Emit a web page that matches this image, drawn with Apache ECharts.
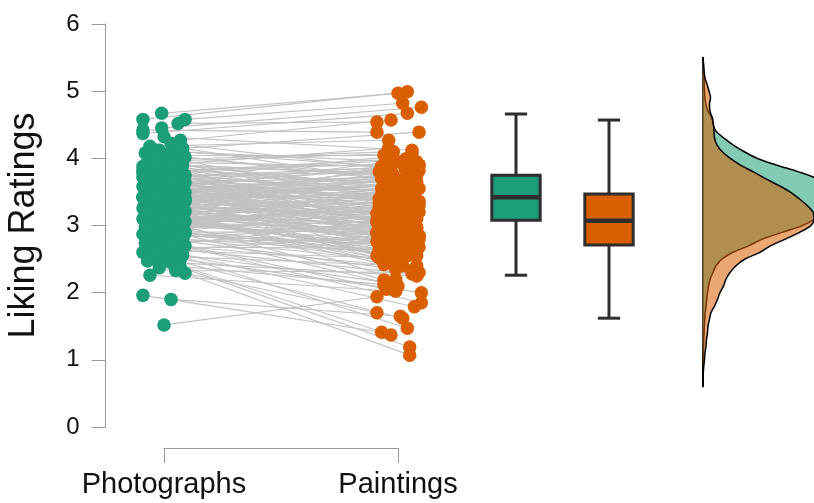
<!DOCTYPE html>
<html>
<head>
<meta charset="utf-8">
<script src="https://cdn.jsdelivr.net/npm/echarts@6/dist/echarts.min.js"></script>
<style>html,body{margin:0;padding:0;background:#fff}#c{width:814px;height:503px}</style>
</head>
<body>
<div id="c"></div>
<script>
// ---------- DATA ----------
const categories = ['Photographs', 'Paintings'];
const yTicks = [0, 1, 2, 3, 4, 5, 6];
const yTitle = 'Liking Ratings';

// paired ratings per participant (same order in both arrays)
const photographs = [
  4.67,4.58,4.58,4.52,4.45,4.42,4.37,4.32,4.27,4.22,
  4.18,4.15,4.12,4.10,4.08,4.05,4.02,4.00,3.98,3.96,
  3.94,3.92,3.90,3.88,3.86,3.85,3.83,3.82,3.80,3.79,
  3.78,3.77,3.76,3.75,3.74,3.73,3.72,3.71,3.70,3.69,
  3.68,3.67,3.66,3.65,3.64,3.63,3.62,3.61,3.60,3.59,
  3.58,3.57,3.56,3.55,3.54,3.53,3.52,3.51,3.50,3.49,
  3.48,3.47,3.46,3.45,3.44,3.43,3.43,3.42,3.42,3.41,
  3.40,3.40,3.39,3.38,3.37,3.36,3.35,3.34,3.33,3.32,
  3.31,3.30,3.29,3.28,3.27,3.26,3.25,3.24,3.23,3.22,
  3.21,3.20,3.19,3.18,3.17,3.16,3.15,3.14,3.13,3.12,
  3.11,3.10,3.09,3.08,3.07,3.06,3.05,3.04,3.03,3.02,
  3.00,2.99,2.98,2.96,2.95,2.93,2.92,2.90,2.89,2.87,
  2.85,2.83,2.82,2.80,2.78,2.76,2.74,2.72,2.70,2.68,
  2.66,2.64,2.62,2.60,2.58,2.56,2.55,2.52,2.50,2.47,
  2.45,2.42,2.38,2.37,2.33,2.29,2.26,1.96,1.90,1.52,
  3.95,3.55,3.35,3.20,3.50,3.75,2.95,3.62,3.28,3.00,
  3.88,3.45,3.62,3.30,3.72,3.15,3.52,3.05,3.40,3.85,
  3.25,3.58,3.10,3.68,2.92,3.48,3.78,3.18,3.55,2.85,
  3.95,3.38,3.65,3.02,3.44,4.05,3.22,3.58,2.75,3.82,
  3.12,3.50,3.34,2.98,3.70,3.27,3.92,3.08,3.46,3.60,
  2.88,3.36,3.80,3.16,3.54,4.12,2.80,3.42,3.66,3.24
];
const paintings = [
  4.97,4.99,4.82,4.54,4.76,4.39,4.67,4.12,4.57,3.85,
  4.27,3.62,4.39,3.95,3.40,4.05,3.70,3.20,4.10,3.55,
  3.88,2.95,3.75,4.15,3.30,3.60,3.05,3.92,3.45,2.80,
  3.65,3.98,3.15,3.50,2.60,3.80,3.35,4.02,3.10,3.58,
  3.25,3.90,2.90,3.47,3.72,3.00,3.38,2.55,3.52,3.12,
  3.85,3.28,2.75,3.42,3.67,3.05,3.33,2.45,3.55,3.18,
  3.78,2.85,3.40,3.08,2.35,3.62,3.22,2.68,3.45,3.02,
  3.90,2.92,3.30,2.20,3.50,3.10,2.78,3.68,3.26,2.62,
  3.15,3.40,2.88,3.75,3.06,2.50,3.36,2.98,3.58,2.72,
  3.20,2.40,3.44,3.00,2.82,3.30,2.65,3.12,2.30,3.48,
  2.90,3.05,2.58,3.25,2.76,3.62,2.95,2.19,3.15,2.70,
  3.35,2.84,2.48,3.08,2.62,3.42,2.10,2.92,2.55,3.20,
  2.70,2.35,3.00,2.60,1.85,2.80,2.42,3.10,2.05,2.66,
  2.28,1.79,2.52,2.88,1.47,2.15,2.40,1.62,2.00,2.25,
  1.37,2.12,1.19,1.70,2.30,1.07,2.02,1.41,1.65,1.94,
  4.08,3.95,3.82,3.70,2.88,3.32,3.52,2.98,2.52,3.78,
  3.48,3.70,3.15,2.75,3.88,3.35,2.65,2.85,3.60,3.10,
  3.95,2.92,3.22,3.40,2.58,3.18,4.00,2.45,3.72,3.05,
  3.55,2.95,3.28,2.68,3.82,3.66,2.78,3.45,2.90,3.02,
  2.55,3.38,3.65,3.25,2.82,3.12,3.75,2.62,3.00,3.90,
  2.72,3.48,3.20,2.98,3.58,3.85,2.48,3.14,3.55,2.86
];
// horizontal jitter of each dot, in percent of the category spacing
const jitterPhotographs = [
  -1,-9,9,6,-1,-9,-9,0,7,3,  -6,8,-3,5,-8,2,9,-5,1,-7,
  6,-2,8,-9,4,-4,0,7,-6,3,  -8,5,-1,9,-5,2,-9,6,-3,8,
  -7,1,4,-4,9,-8,0,6,-2,3,  -9,7,-5,2,8,-3,5,-7,0,9,
  -4,3,-8,6,-1,8,-6,1,-9,4,  7,-2,5,-7,0,9,-5,2,-8,6,
  -3,8,-6,1,4,-9,7,-1,3,-4,  9,-7,0,5,-2,8,-8,2,6,-5,
  4,-9,7,-3,1,9,-6,3,-1,8,  -4,6,-8,0,5,-7,2,9,-2,-9,
  7,-5,3,8,-3,1,-8,5,9,-6,  2,-1,6,-9,4,8,-4,0,7,-7,
  3,-2,7,-2,5,9,-6,-9,3,0,  -5,4,-7,6,1,-3,8,-8,2,5,
  4,-6,8,-2,1,-8,6,-4,9,-1,  -7,3,7,-5,0,5,-9,2,-3,8,
  -6,9,-2,4,-8,1,6,-4,3,-9,  7,-1,5,-7,2,8,-5,0,-3,6,
  9,-8,1,-6,4,-2,7,-9,3,-4
];
const jitterPaintings = [
  0,4,2,-9,10,-9,4,6,-3,-5,  -4,7,9,1,-8,-6,3,9,-2,5,
  -7,2,8,-4,0,6,-9,4,-1,9,  -6,3,7,-3,1,-8,5,-5,8,0,
  -2,9,-7,4,-4,6,2,-9,7,-1,  3,-6,8,0,-3,5,-8,1,9,-5,
  6,-2,4,-9,7,-4,2,8,-7,0,  5,-6,9,-1,3,-8,6,-3,1,8,
  -5,4,-9,7,-2,2,9,-6,0,5,  -4,8,-7,3,-1,6,-8,1,9,-3,
  4,-5,7,0,-9,3,8,-6,2,-2,  5,9,-4,1,-7,6,0,-3,8,-8,
  4,-1,7,-5,10,3,-6,5,-5,-2,  6,7,-8,4,4,-4,2,2,10,8,
  -3,-6,5,-9,7,5,-1,-7,1,-9,  6,-3,9,-7,2,5,-5,8,0,-4,
  -3,7,-8,2,5,-6,0,9,-4,3,  8,-7,1,-2,6,-9,4,-5,7,0,
  -1,5,-8,9,-3,2,-6,6,-9,1,  4,-4,8,-7,3,0,-2,7,-5,9,
  -6,2,5,-8,-1,6,-3,4,-7,1
];

// box plot statistics: [lower whisker, Q1, median, Q3, upper whisker]
const boxPhotographs = [2.26, 3.08, 3.42, 3.75, 4.66];
const boxPaintings = [1.62, 2.71, 3.07, 3.47, 4.57];

// kernel density estimates along the rating scale
const densityRatings = ['0.6','0.7','0.8','0.9','1.0','1.1','1.2','1.3','1.4','1.5',
  '1.6','1.7','1.8','1.9','2.0','2.1','2.2','2.3','2.4','2.5',
  '2.6','2.7','2.8','2.9','3.0','3.1','3.2','3.3','3.4','3.5',
  '3.6','3.7','3.8','3.9','4.0','4.1','4.2','4.3','4.4','4.5',
  '4.6','4.7','4.8','4.9','5.0','5.1','5.2','5.3','5.4','5.5'];
const densityPhotographs = [0,0,0,0,0.001,0.002,0.004,0.005,0.007,0.009,
  0.012,0.015,0.020,0.025,0.030,0.037,0.047,0.067,0.087,0.127,
  0.200,0.307,0.400,0.533,0.667,0.747,0.787,0.830,0.845,0.833,
  0.800,0.753,0.633,0.487,0.360,0.273,0.200,0.140,0.087,0.067,
  0.063,0.033,0.020,0.013,0.010,0.008,0.007,0.005,0.003,0];
const densityPaintings = [0,0.001,0.002,0.005,0.010,0.013,0.020,0.023,0.030,0.033,
  0.043,0.053,0.077,0.097,0.113,0.137,0.153,0.180,0.220,0.280,
  0.380,0.453,0.553,0.647,0.720,0.740,0.733,0.693,0.640,0.580,
  0.500,0.413,0.333,0.247,0.180,0.127,0.093,0.077,0.073,0.070,
  0.060,0.047,0.043,0.050,0.040,0.027,0.013,0.007,0.003,0];

// ---------- STYLE ----------
const GREEN = '#1b9e77', ORANGE = '#d95f02';
const FONT = "'Liberation Sans', Arial, sans-serif";
const AXIS_GRAY = '#9a9a9a';

const chart = echarts.init(document.getElementById('c'), null, {renderer: 'canvas'});

const ptsG = photographs.map((v, i) => [1 + jitterPhotographs[i] / 100, v]);
const ptsP = paintings.map((v, i) => [2 + jitterPaintings[i] / 100, v]);
const links = photographs.map((v, i) => ({coords: [ptsG[i], ptsP[i]]}));

const boxData = [[0].concat(boxPhotographs), [1].concat(boxPaintings)];
const boxColors = [GREEN, ORANGE];

const option = {
  animation: false,
  backgroundColor: '#fff',
  textStyle: {fontFamily: FONT},
  grid: [
    {left: 105.5, width: 351, top: 24, height: 403},          // points
    {left: 164, width: 234, bottom: 55, height: 10},          // bracket axis
    {left: 469.5, width: 186, top: 24, height: 403},          // boxplots
    {left: 703, right: 0, top: 57.4, bottom: 116.3}           // densities
  ],
  xAxis: [
    {gridIndex: 0, type: 'value', min: 0.75, max: 2.25, show: false},
    {gridIndex: 1, type: 'category', data: categories, boundaryGap: false,
      axisLine: {lineStyle: {color: AXIS_GRAY, width: 1}},
      axisTick: {inside: false, length: 15, lineStyle: {color: AXIS_GRAY}},
      axisLabel: {fontSize: 29, color: '#111', margin: 22, fontFamily: FONT}},
    {gridIndex: 2, type: 'category', data: categories, show: false},
    {gridIndex: 3, type: 'value', min: 0, max: 0.74, show: false}
  ],
  yAxis: [
    {gridIndex: 0, type: 'value', min: yTicks[0], max: yTicks[yTicks.length - 1], interval: 1,
      name: yTitle, nameLocation: 'middle', nameRotate: 90, nameGap: 63,
      nameTextStyle: {fontSize: 36, color: '#111', fontFamily: FONT},
      splitLine: {show: false},
      axisLine: {show: true, lineStyle: {color: AXIS_GRAY, width: 1}},
      axisTick: {show: true, length: 14, lineStyle: {color: AXIS_GRAY}},
      axisLabel: {fontSize: 24, color: '#111', margin: 26, fontFamily: FONT}},
    {gridIndex: 1, type: 'value', show: false},
    {gridIndex: 2, type: 'value', min: 0, max: 6, show: false},
    {gridIndex: 3, type: 'category', data: densityRatings, boundaryGap: false,
      axisLine: {show: true, lineStyle: {color: '#000', width: 1.5}},
      axisTick: {show: false}, axisLabel: {show: false}, splitLine: {show: false}}
  ],
  series: [
    {type: 'lines', coordinateSystem: 'cartesian2d', xAxisIndex: 0, yAxisIndex: 0,
      data: links, lineStyle: {color: '#c2c2c2', width: 1.1, opacity: 1}, silent: true, z: 1},
    {type: 'scatter', xAxisIndex: 0, yAxisIndex: 0, data: ptsG, symbolSize: 13.5,
      itemStyle: {color: GREEN, opacity: 1}, z: 2},
    {type: 'scatter', xAxisIndex: 0, yAxisIndex: 0, data: ptsP, symbolSize: 13.5,
      itemStyle: {color: ORANGE, opacity: 1}, z: 2},
    {type: 'custom', xAxisIndex: 2, yAxisIndex: 2, data: boxData,
      encode: {x: 0, y: [1, 2, 3, 4, 5]},
      renderItem: function (params, api) {
        const idx = api.value(0);
        const c = (v) => api.coord([idx, v]);
        const band = api.size([1, 0])[0];
        const bw = band * 0.52, cw = band * 0.24;
        const pMin = c(api.value(1)), pQ1 = c(api.value(2)), pMed = c(api.value(3)),
              pQ3 = c(api.value(4)), pMax = c(api.value(5));
        const x = pMin[0];
        const s = {stroke: '#2e2e2e', lineWidth: 3};
        return {type: 'group', children: [
          {type: 'line', shape: {x1: x, y1: pMax[1], x2: x, y2: pQ3[1]}, style: s},
          {type: 'line', shape: {x1: x, y1: pQ1[1], x2: x, y2: pMin[1]}, style: s},
          {type: 'line', shape: {x1: x - cw / 2, y1: pMax[1], x2: x + cw / 2, y2: pMax[1]}, style: s},
          {type: 'line', shape: {x1: x - cw / 2, y1: pMin[1], x2: x + cw / 2, y2: pMin[1]}, style: s},
          {type: 'rect', shape: {x: x - bw / 2, y: pQ3[1], width: bw, height: pQ1[1] - pQ3[1]},
            style: {fill: boxColors[params.dataIndex], stroke: '#2e2e2e', lineWidth: 3}},
          {type: 'line', shape: {x1: x - bw / 2, y1: pMed[1], x2: x + bw / 2, y2: pMed[1]},
            style: {stroke: '#2e2e2e', lineWidth: 4.5}}
        ]};
      }, z: 3},
    {type: 'line', xAxisIndex: 3, yAxisIndex: 3, data: densityPhotographs, smooth: 0.3,
      showSymbol: false, lineStyle: {color: '#000', width: 1.5},
      areaStyle: {color: GREEN, opacity: 0.55}, z: 4},
    {type: 'line', xAxisIndex: 3, yAxisIndex: 3, data: densityPaintings, smooth: 0.3,
      showSymbol: false, lineStyle: {color: '#000', width: 1.5},
      areaStyle: {color: ORANGE, opacity: 0.55}, z: 5}
  ]
};
chart.setOption(option);
</script>
</body>
</html>
